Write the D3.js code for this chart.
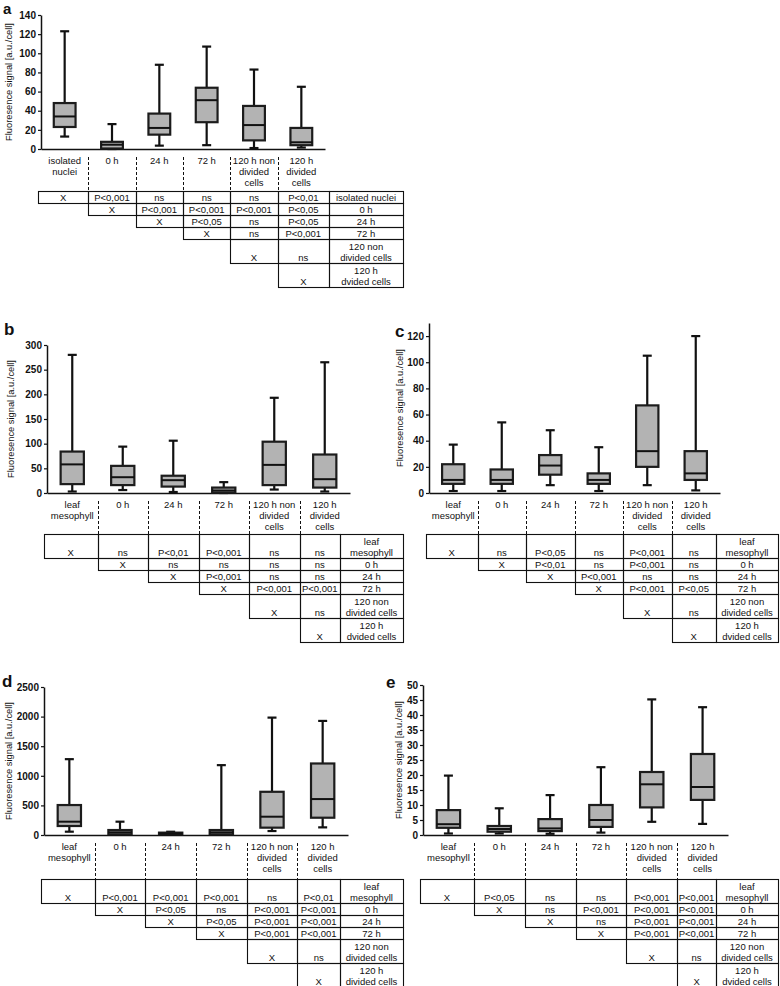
<!DOCTYPE html>
<html>
<head>
<meta charset="utf-8">
<script src="https://cdn.jsdelivr.net/npm/d3@7"></script>
<style>
  body { margin: 0; background: #fff; }
  svg { display: block; }
  text { font-family: "Liberation Sans", Arial, sans-serif; fill: #111; }
</style>
</head>
<body>
<svg width="780" height="986"></svg>
<script>
// ---- data ----
const categoriesA = ["isolated\nnuclei", "0 h", "24 h", "72 h", "120 h non\ndivided\ncells", "120 h\ndivided\ncells"];
const categoriesLeaf = ["leaf\nmesophyll", "0 h", "24 h", "72 h", "120 h non\ndivided\ncells", "120 h\ndivided\ncells"];

const rowLabelsA = ["isolated nuclei", "0 h", "24 h", "72 h", "120 non\ndivided cells", "120 h\ndvided cells"];
const rowLabelsLeaf = ["leaf\nmesophyll", "0 h", "24 h", "72 h", "120 non\ndivided cells", "120 h\ndvided cells"];
const rowLabelsD = ["leaf\nmesophyll", "0 h", "24 h", "72 h", "120 non\ndivided cells", "120 h\ndivided cells"];

// [min, q1, median, q3, max]
const boxesA = [[13, 23, 34, 48, 123], [0, 0.5, 4.5, 7.5, 26], [3.5, 15, 22, 37, 88], [4, 28, 51, 64, 107], [1, 9, 25, 45, 83], [1.5, 4, 7, 22, 65]];
const boxesB = [[3, 18, 58, 84, 280], [6, 16, 32, 55, 94], [2, 13, 26, 35, 106], [0, 1, 5, 11, 22], [7, 16, 57, 104, 193], [3, 11, 28, 78, 265]];
const boxesC = [[1.5, 7, 10, 22, 37], [1.5, 7, 10, 18, 54], [6, 14, 21, 29, 48], [1.5, 7, 10, 15, 35], [6, 20, 32, 67, 105], [2, 10, 15, 32, 120]];
const boxesD = [[56, 152, 225, 506, 1281], [5, 11, 45, 84, 225], [5, 12, 25, 40, 55], [5, 11, 45, 84, 1180], [67, 124, 309, 730, 1983], [129, 292, 607, 1208, 1927]];
const boxesE = [[0.5, 2.4, 3.6, 8.3, 19.8], [0.5, 1.1, 2, 3, 8.9], [0.4, 1.3, 2.2, 5.3, 13.3], [0.8, 2.7, 5, 10, 22.6], [4.4, 9.2, 16.9, 21, 45.2], [3.7, 11.7, 16, 27, 42.6]];

const pvalsA = [["X", "P<0,001", "ns", "ns", "ns", "P<0,01"], ["X", "P<0,001", "P<0,001", "P<0,001", "P<0,05"], ["X", "P<0,05", "ns", "P<0,05"], ["X", "ns", "P<0,001"], ["X", "ns"], ["X"]];
const pvalsB = [["X", "ns", "P<0,01", "P<0,001", "ns", "ns"], ["X", "ns", "ns", "ns", "ns"], ["X", "P<0,001", "ns", "ns"], ["X", "P<0,001", "P<0,001"], ["X", "ns"], ["X"]];
const pvalsC = [["X", "ns", "P<0,05", "ns", "P<0,001", "ns"], ["X", "P<0,01", "ns", "P<0,001", "ns"], ["X", "P<0,001", "ns", "ns"], ["X", "P<0,001", "P<0,05"], ["X", "ns"], ["X"]];
const pvalsD = [["X", "P<0,001", "P<0,001", "P<0,001", "ns", "P<0,01"], ["X", "P<0,05", "ns", "P<0,001", "P<0,001"], ["X", "P<0,05", "P<0,001", "P<0,001"], ["X", "P<0,001", "P<0,001"], ["X", "ns"], ["X"]];
const pvalsE = [["X", "P<0,05", "ns", "ns", "P<0,001", "P<0,001"], ["X", "ns", "P<0,001", "P<0,001", "P<0,001"], ["X", "ns", "P<0,001", "P<0,001"], ["X", "P<0,001", "P<0,001"], ["X", "ns"], ["X"]];

const ticksA = [0, 20, 40, 60, 80, 100, 120, 140];
const ticksB = [0, 50, 100, 150, 200, 250, 300];
const ticksC = [0, 20, 40, 60, 80, 100, 120];
const ticksD = [0, 500, 1000, 1500, 2000, 2500];
const ticksE = [0, 5, 10, 15, 20, 25, 30, 35, 40, 45, 50];

const yTitle = "Fluoresence signal [a.u./cell]";

// ---- layout ----
const panels = [
  { id: "a", cats: categoriesA, rows: rowLabelsA, boxes: boxesA, pv: pvalsA, ticks: ticksA, yMax: 140,
    x0: 41, len: 284, y0: 149, yTop: 15, tableTop: 191, labelLeft: 329, tableRight: 403, titleX: 12, letterX: 3, letterY: 14, letterSize: 15 },
  { id: "b", cats: categoriesLeaf, rows: rowLabelsLeaf, boxes: boxesB, pv: pvalsB, ticks: ticksB, yMax: 300,
    x0: 47, len: 303, y0: 493, yTop: 345, tableTop: 534, labelLeft: 340, tableRight: 403, titleX: 14, letterX: 4, letterY: 335, letterSize: 17 },
  { id: "c", cats: categoriesLeaf, rows: rowLabelsLeaf, boxes: boxesC, pv: pvalsC, ticks: ticksC, yMax: 130,
    x0: 429, len: 291, y0: 493, yTop: 323, tableTop: 534, labelLeft: 716, tableRight: 778, titleX: 403, letterX: 395, letterY: 337, letterSize: 17 },
  { id: "d", cats: categoriesLeaf, rows: rowLabelsD, boxes: boxesD, pv: pvalsD, ticks: ticksD, yMax: 2500,
    x0: 44, len: 304, y0: 835, yTop: 687, tableTop: 879, labelLeft: 340, tableRight: 403, titleX: 12, letterX: 2, letterY: 687, letterSize: 17 },
  { id: "e", cats: categoriesLeaf, rows: rowLabelsLeaf, boxes: boxesE, pv: pvalsE, ticks: ticksE, yMax: 50,
    x0: 423, len: 305, y0: 835, yTop: 685, tableTop: 879, labelLeft: 716, tableRight: 778, titleX: 402, letterX: 386, letterY: 688, letterSize: 17 }
];

const svg = d3.select("svg");
const fs = 9.5;

function multiText(sel, str, x, yFirst, lh) {
  const t = sel.append("text").attr("text-anchor", "middle").attr("font-size", fs);
  str.split("\n").forEach((s, k) => {
    t.append("tspan").attr("x", x).attr("y", yFirst + k * lh).text(s);
  });
  return t;
}

function drawPanel(p) {
  const g = svg.append("g");
  const y = d3.scaleLinear().domain([0, p.yMax]).range([p.y0, p.yTop]);
  const x = d3.scaleBand().domain(d3.range(p.cats.length)).range([p.x0, p.x0 + p.len]);
  const step = x.step();
  const cx = i => x(i) + x.bandwidth() / 2;
  const bw = step * 0.46, cap = 9;

  // y axis
  const ya = g.append("g").attr("transform", `translate(${p.x0},0)`)
    .call(d3.axisLeft(y).tickValues(p.ticks).tickFormat(d3.format("d"))
      .tickSize(3).tickSizeOuter(0).tickPadding(2));
  ya.select(".domain").attr("stroke", "#111").attr("stroke-width", 1.5);
  ya.selectAll(".tick line").attr("stroke", "#111").attr("stroke-width", 1.2);
  ya.selectAll(".tick text").attr("font-size", 10).attr("font-weight", "bold")
    .attr("font-family", "Liberation Sans, Arial, sans-serif").attr("fill", "#111");

  // x axis line
  const xa = g.append("g").attr("transform", `translate(0,${p.y0})`)
    .call(d3.axisBottom(x).tickSize(0).tickSizeOuter(0).tickFormat(""));
  xa.select(".domain").attr("stroke", "#111").attr("stroke-width", 1.5);

  // y title
  g.append("text").attr("transform", `translate(${p.titleX},${(p.y0 + p.yTop) / 2}) rotate(-90)`)
    .attr("text-anchor", "middle").attr("font-size", 9.3).text(yTitle);

  // panel letter
  g.append("text").attr("x", p.letterX).attr("y", p.letterY).attr("font-size", p.letterSize)
    .attr("font-weight", "bold").text(p.id);

  // boxes
  const bx = g.selectAll("g.box").data(p.boxes).join("g").attr("class", "box");
  bx.append("line").attr("x1", (d, i) => cx(i)).attr("x2", (d, i) => cx(i))
    .attr("y1", d => y(d[0])).attr("y2", d => y(d[4]))
    .attr("stroke", "#111").attr("stroke-width", 2.2);
  [0, 4].forEach(k => {
    bx.append("line").attr("x1", (d, i) => cx(i) - cap / 2).attr("x2", (d, i) => cx(i) + cap / 2)
      .attr("y1", d => y(d[k])).attr("y2", d => y(d[k]))
      .attr("stroke", "#111").attr("stroke-width", 2.2);
  });
  bx.append("rect").attr("x", (d, i) => cx(i) - bw / 2).attr("width", bw)
    .attr("y", d => y(d[3])).attr("height", d => Math.max(0.5, y(d[1]) - y(d[3])))
    .attr("fill", "#b3b3b3").attr("stroke", "#1c1c1c").attr("stroke-width", 2.2);
  bx.append("line").attr("x1", (d, i) => cx(i) - bw / 2).attr("x2", (d, i) => cx(i) + bw / 2)
    .attr("y1", d => y(d[2])).attr("y2", d => y(d[2]))
    .attr("stroke", "#111").attr("stroke-width", 2);

  // category labels
  p.cats.forEach((c, i) => multiText(g, c, cx(i), p.y0 + 15, 11));

  // table column edges
  const edges = [p.x0 - 3];
  for (let i = 1; i < p.cats.length; i++) edges.push((cx(i - 1) + cx(i)) / 2);
  edges.push(p.labelLeft, p.tableRight);

  // dashed separators
  for (let i = 1; i < p.cats.length; i++) {
    g.append("line").attr("x1", Math.round(edges[i]) + 0.5).attr("x2", Math.round(edges[i]) + 0.5)
      .attr("y1", p.y0 + 8).attr("y2", p.tableTop)
      .attr("stroke", "#111").attr("stroke-width", 1).attr("stroke-dasharray", "3,2");
  }

  // table
  let top = p.tableTop;
  p.rows.forEach((lab, r) => {
    const lines = lab.split("\n").length;
    const h = lines * 12;
    const bottom = top + h;
    const cols = d3.range(r, p.cats.length + 1);
    cols.forEach(c => {
      const xl = Math.round(edges[c]) + 0.5, xr = Math.round(edges[c + 1]) + 0.5;
      g.append("rect").attr("x", xl).attr("y", top + 0.5).attr("width", xr - xl).attr("height", h)
        .attr("fill", "none").attr("stroke", "#111").attr("stroke-width", 1.1);
      const mx = (edges[c] + edges[c + 1]) / 2;
      if (c < p.cats.length) {
        g.append("text").attr("x", mx).attr("y", bottom - 2.5).attr("text-anchor", "middle")
          .attr("font-size", fs).text(p.pv[r][c - r]);
      } else {
        multiText(g, lab, mx, bottom - 2.5 - (lines - 1) * 11, 11);
      }
    });
    top = bottom;
  });
}

panels.forEach(drawPanel);
</script>
</body>
</html>
